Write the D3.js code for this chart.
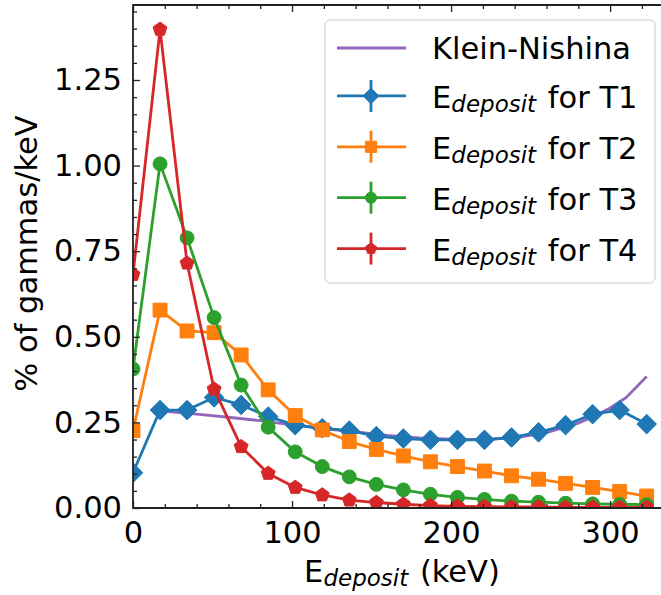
<!DOCTYPE html>
<html lang="en">

<head>
    <meta charset="UTF-8" />
    <script src="https://d3js.org/d3.v7.min.js"></script>
    <title>E deposit</title>
    <style>
        body {
            margin: 0;
        }

        svg {
            display: block;
            font-family: "DejaVu Sans", sans-serif;
        }

        text {
            white-space: pre;
        }
    </style>
</head>

<body>
    <svg width="661" height="595"></svg>
</body>
<script>
    // energy bins (keV)
    const energy = [0, 17, 34, 51, 68, 85, 102, 119, 136, 153, 170, 187, 204, 221, 238, 255, 272, 289, 306, 323]
    const t1 = [0.103, 0.286, 0.286, 0.323, 0.301, 0.267, 0.242, 0.233, 0.226, 0.210, 0.203, 0.199, 0.199, 0.199, 0.206, 0.221, 0.242, 0.274, 0.286, 0.245]
    const t2 = [0.226, 0.578, 0.517, 0.512, 0.447, 0.345, 0.270, 0.228, 0.194, 0.171, 0.152, 0.135, 0.121, 0.108, 0.094, 0.084, 0.072, 0.060, 0.048, 0.035]
    const t3 = [0.406, 1.005, 0.789, 0.556, 0.359, 0.236, 0.164, 0.121, 0.091, 0.069, 0.053, 0.040, 0.031, 0.025, 0.020, 0.017, 0.014, 0.012, 0.011, 0.010]
    const t4 = [0.682, 1.398, 0.715, 0.347, 0.179, 0.101, 0.060, 0.038, 0.023, 0.016, 0.011, 0.007, 0.005, 0.004, 0.003, 0.003, 0.002, 0.002, 0.002, 0.002]

    // Klein-Nishina curve
    const knEnergy = [20, 40, 60, 80, 100, 120, 140, 160, 180, 200, 220, 240, 260, 280, 290, 300, 310, 323]
    const knValue = [0.282, 0.274, 0.265, 0.255, 0.243, 0.232, 0.222, 0.212, 0.205, 0.201, 0.200, 0.205, 0.220, 0.248, 0.268, 0.292, 0.322, 0.384]

    const xTicks = [0, 100, 200, 300]
    const yTicks = [0, 0.25, 0.5, 0.75, 1.0, 1.25]
    const xMinor = [20, 40, 60, 80, 120, 140, 160, 180, 220, 240, 260, 280, 320]
    const yMinor = [0.05, 0.1, 0.15, 0.2, 0.3, 0.35, 0.4, 0.45, 0.55, 0.6, 0.65, 0.7, 0.8, 0.85, 0.9, 0.95, 1.05, 1.1, 1.15, 1.2, 1.3, 1.35, 1.4, 1.45]

    const fs = 30.5
    const margin = { left: 133, right: 661, top: 5, bottom: 508 }

    const x = d3.scaleLinear().domain([0, 332]).range([margin.left, margin.right])
    const y = d3.scaleLinear().domain([0, 1.469]).range([margin.bottom, margin.top])

    // marker shapes, size = half width
    const diamond = { draw(c, r) { c.moveTo(0, -r); c.lineTo(r, 0); c.lineTo(0, r); c.lineTo(-r, 0); c.closePath() } }
    const square = { draw(c, r) { c.rect(-r, -r, 2 * r, 2 * r) } }
    const circle = { draw(c, r) { c.moveTo(r, 0); c.arc(0, 0, r, 0, 2 * Math.PI) } }
    const pentagon = {
        draw(c, r) {
            for (let k = 0; k < 5; k++) {
                const a = (-90 + k * 72) * Math.PI / 180
                k ? c.lineTo(r * Math.cos(a), r * Math.sin(a)) : c.moveTo(r * Math.cos(a), r * Math.sin(a))
            }
            c.closePath()
        }
    }

    const series = [
        { label: "T1", values: t1, color: "#1f77b4", shape: diamond, r: 9.8 },
        { label: "T2", values: t2, color: "#ff7f0e", shape: square, r: 6.95 },
        { label: "T3", values: t3, color: "#2ca02c", shape: circle, r: 6.95 },
        { label: "T4", values: t4, color: "#d62728", shape: pentagon, r: 7.3 },
    ]

    const svg = d3.select("svg")
    svg.append("rect").attr("width", 661).attr("height", 595).attr("fill", "white")

    svg.append("clipPath").attr("id", "plot")
        .append("rect").attr("x", margin.left).attr("y", margin.top)
        .attr("width", margin.right - margin.left).attr("height", margin.bottom - margin.top)

    const plot = svg.append("g").attr("clip-path", "url(#plot)")
    const line = d3.line().x(d => x(d[0])).y(d => y(d[1]))

    plot.append("path").attr("d", line(d3.zip(knEnergy, knValue)))
        .attr("fill", "none").attr("stroke", "#9467bd").attr("stroke-width", 2.8)

    series.forEach(s => {
        const pts = d3.zip(energy, s.values)
        plot.append("path").attr("d", line(pts))
            .attr("fill", "none").attr("stroke", s.color).attr("stroke-width", 2.8).attr("stroke-linejoin", "round")
        plot.append("g").selectAll("path").data(pts).enter().append("path")
            .attr("transform", d => `translate(${x(d[0])},${y(d[1])})`)
            .attr("d", d3.symbol().type(s.shape).size(s.r))
            .attr("fill", s.color).attr("stroke", s.color).attr("stroke-width", 1)
    })

    // axes, ticks pointing inward
    const tickStyle = g => {
        g.select(".domain").remove()
        g.selectAll("line").attr("stroke", "#222").attr("stroke-width", 1.3)
        g.selectAll("text").attr("font-size", fs).attr("font-family", "DejaVu Sans").attr("fill", "black")
    }
    svg.append("g").attr("transform", `translate(0,${margin.bottom})`)
        .call(d3.axisBottom(x).tickValues(xTicks).tickFormat(d3.format("d")).tickSizeInner(-7).tickSizeOuter(0).tickPadding(13)).call(tickStyle)
    svg.append("g").attr("transform", `translate(0,${margin.bottom})`)
        .call(d3.axisBottom(x).tickValues(xMinor).tickFormat("").tickSizeInner(-4).tickSizeOuter(0)).call(tickStyle)
    svg.append("g").attr("transform", `translate(0,${margin.top})`)
        .call(d3.axisTop(x).tickValues(xTicks).tickFormat("").tickSizeInner(-7).tickSizeOuter(0)).call(tickStyle)
    svg.append("g").attr("transform", `translate(0,${margin.top})`)
        .call(d3.axisTop(x).tickValues(xMinor).tickFormat("").tickSizeInner(-4).tickSizeOuter(0)).call(tickStyle)
    svg.append("g").attr("transform", `translate(${margin.left},0)`)
        .call(d3.axisLeft(y).tickValues(yTicks).tickFormat(d3.format(".2f")).tickSizeInner(-7).tickSizeOuter(0).tickPadding(11)).call(tickStyle)
    svg.append("g").attr("transform", `translate(${margin.left},0)`)
        .call(d3.axisLeft(y).tickValues(yMinor).tickFormat("").tickSizeInner(-4).tickSizeOuter(0)).call(tickStyle)

    // spines
    svg.append("path")
        .attr("d", `M${margin.right + 2},${margin.top}H${margin.left}V${margin.bottom}H${margin.right + 2}`)
        .attr("fill", "none").attr("stroke", "#222").attr("stroke-width", 1.8)

    // axis labels, E with italic subscript
    const eLabel = (t, rest) => {
        t.append("tspan").text("E")
        t.append("tspan").attr("font-style", "italic").attr("font-size", 23).attr("dy", 4).text("deposit")
        t.append("tspan").attr("dy", -4).attr("dx", 2).text(rest)
    }
    svg.append("text").attr("x", (margin.left + margin.right) / 2 + 5).attr("y", 582)
        .attr("text-anchor", "middle").attr("font-size", fs).call(eLabel, " (keV)")
    svg.append("text").attr("transform", `translate(37,${(margin.top + margin.bottom) / 2 - 3}) rotate(-90)`)
        .attr("text-anchor", "middle").attr("font-size", fs).text("% of gammas/keV")

    // legend
    const legend = svg.append("g")
    legend.append("rect").attr("x", 325).attr("y", 20).attr("width", 330).attr("height", 263).attr("rx", 5)
        .attr("fill", "white").attr("fill-opacity", 0.8).attr("stroke", "#cccccc").attr("stroke-width", 1)
    const rowY = i => i ? 45 + i * 50.9 : 48

    legend.append("line").attr("x1", 337).attr("x2", 406).attr("y1", rowY(0)).attr("y2", rowY(0))
        .attr("stroke", "#9467bd").attr("stroke-width", 2.8)
    legend.append("text").attr("x", 432).attr("y", rowY(0) + 11).attr("font-size", fs).text("Klein-Nishina")

    series.forEach((s, i) => {
        const cy = rowY(i + 1)
        const g = legend.append("g")
        g.append("line").attr("x1", 337).attr("x2", 406).attr("y1", cy).attr("y2", cy)
            .attr("stroke", s.color).attr("stroke-width", 2.8)
        g.append("line").attr("x1", 371).attr("x2", 371).attr("y1", cy - 16).attr("y2", cy + 16)
            .attr("stroke", s.color).attr("stroke-width", 2.8)
        g.append("path").attr("transform", `translate(371,${cy})`)
            .attr("d", d3.symbol().type(s.shape).size(s.r * 0.8))
            .attr("fill", s.color).attr("stroke", s.color).attr("stroke-width", 1)
        g.append("text").attr("x", 432).attr("y", cy + 12.5).attr("font-size", fs).call(eLabel, " for " + s.label)
    })
</script>

</html>
